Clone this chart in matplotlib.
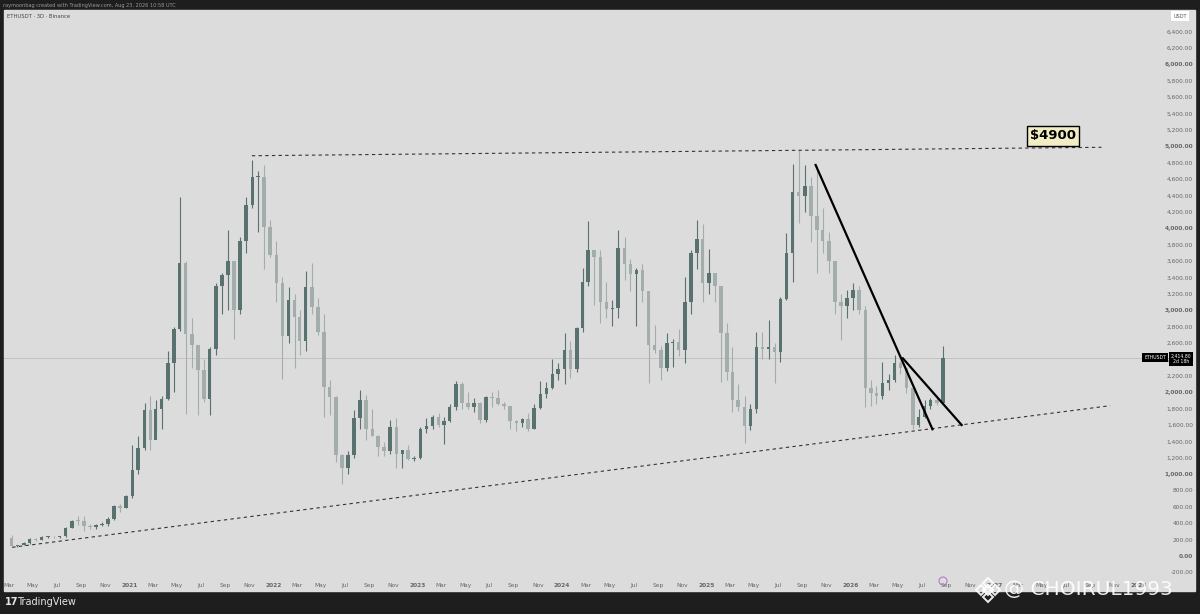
import datetime as dt
import matplotlib
matplotlib.use("Agg")
import matplotlib.pyplot as plt
import matplotlib.dates as mdates
from matplotlib.patches import Rectangle, Polygon, Ellipse

# ETHUSDT candles, one per half month (1st / 16th)
first_open = 220
closes = [125, 133, 158, 206, 200, 231, 231, 226, 240, 345, 432, 430, 365, 360, 375, 385,
          450, 615, 580, 735,
          1050, 1320, 1780, 1420, 1790, 1920, 2350, 2770, 3580, 2710, 2570, 2275, 1920, 2530,
          3300, 3430, 3600, 3000, 3850, 4290, 4630, 4630, 4010, 3680,
          3330, 2690, 3130, 2920, 2620, 3280, 3040, 2730, 2060, 1940, 1230, 1070, 1230, 1680,
          1900, 1550, 1470, 1330, 1280, 1570, 1250, 1300, 1190, 1196,
          1550, 1585, 1700, 1605, 1650, 1820, 2100, 1870, 1820, 1870, 1665, 1935, 1930, 1855,
          1825, 1645, 1625, 1670, 1555, 1810, 1980, 2050, 2220, 2280,
          2510, 2280, 2780, 3340, 3740, 3650, 3100, 3015, 3030, 3760, 3560, 3440, 3490, 3230,
          2570, 2510, 2300, 2600, 2610, 2515, 3100, 3700, 3870, 3330,
          3450, 3300, 2720, 2240, 1910, 1820, 1590, 1795, 2550, 2530, 2550, 2490, 3140, 3700,
          4440, 4390, 4520, 4150, 3980, 3850, 3600, 3100, 3050, 3150,
          3250, 3000, 2050, 1990, 1950, 2110, 2150, 2350, 2300, 2050, 1600, 1700, 1830, 1900,
          1870, 2415]
highs = [252, 140, 175, 215, 218, 240, 250, 240, 245, 350, 440, 490, 485, 395, 385, 420,
         480, 620, 640, 750,
         1350, 1470, 1870, 1950, 1900, 1950, 2500, 2800, 4380, 3600, 2900, 2550, 2400, 2550,
         3330, 3460, 3980, 3600, 3900, 4380, 4830, 4700, 4770, 4100,
         3850, 3400, 3280, 3200, 3000, 3480, 3580, 3150, 2950, 2150, 1950, 1250, 1280, 1780,
         2030, 1960, 1790, 1480, 1390, 1660, 1680, 1300, 1350, 1220,
         1570, 1680, 1720, 1740, 1700, 1850, 2140, 2130, 2000, 1930, 1880, 1950, 2000, 2030,
         1880, 1830, 1660, 1680, 1750, 1860, 2140, 2130, 2400, 2350,
         2720, 2620, 2800, 3520, 4090, 3740, 3730, 3350, 3120, 3980, 3890, 3620, 3520, 3560,
         3240, 2820, 2560, 2720, 2650, 2770, 3400, 3740, 4100, 4050,
         3750, 3450, 3300, 2850, 2550, 2100, 1950, 1850, 2740, 2740, 2880, 2600, 3160, 3940,
         4790, 4960, 4770, 4630, 4760, 4250, 3950, 3600, 3200, 3250,
         3330, 3300, 3050, 2150, 2080, 2370, 2220, 2450, 2380, 2310, 2060, 1800, 1900, 1930,
         1940, 2560]
lows = [110, 112, 130, 150, 180, 190, 225, 215, 225, 235, 340, 375, 310, 330, 335, 365,
        370, 445, 540, 580,
        710, 1000, 1300, 1300, 1450, 1550, 1900, 2000, 2750, 1730, 2300, 1720, 1880, 1720,
        2450, 2950, 3000, 2650, 2950, 3700, 4250, 3950, 3500, 3650,
        3100, 2160, 2600, 2300, 2450, 2500, 2950, 2700, 1700, 1720, 1150, 880, 1000, 1200,
        1550, 1420, 1460, 1220, 1220, 1250, 1070, 1075, 1170, 1160,
        1190, 1500, 1550, 1580, 1370, 1640, 1780, 1790, 1790, 1760, 1620, 1640, 1820, 1840,
        1800, 1550, 1530, 1580, 1520, 1550, 1790, 1930, 2040, 2150,
        2100, 2170, 2240, 2740, 3300, 3060, 2850, 2900, 2810, 2900, 3370, 3240, 2810, 3100,
        2110, 2480, 2150, 2260, 2310, 2440, 2360, 2950, 3500, 3100,
        3200, 3100, 2120, 2150, 1760, 1770, 1385, 1540, 1750, 2400, 2400, 2110, 2370, 3120,
        3350, 4060, 4200, 3830, 3450, 3700, 3450, 2950, 2640, 2900,
        3000, 2950, 1820, 1830, 1860, 1920, 2030, 2120, 2220, 1990, 1555, 1570, 1680, 1800,
        1840, 1850]

top_line_dates = ["2021-11-07", "2027-09-29"]
top_line_prices = [4886, 4989]
support_dates = ["2020-03-10", "2027-10-21"]
support_prices = [106, 1835]
fall_dates = ["2025-10-05", "2026-07-28"]
fall_prices = [4773, 1547]
fall2_dates = ["2026-05-14", "2026-10-10"]
fall2_prices = [2413, 1599]
target_date, target_price, target_label = "2027-05-29", 5127, "$4900"
last_price = 2414.80

W, H = 1200, 614
def px(x, y):
    return x / W, 1 - y / H

def d(s):
    return mdates.date2num(dt.datetime.strptime(s, "%Y-%m-%d"))

# candle dates: 1st and 16th of every month from Mar 2020
dates = []
yr, mo = 2020, 3
while len(dates) < len(closes):
    dates.append(dt.datetime(yr, mo, 1))
    dates.append(dt.datetime(yr, mo, 16))
    mo += 1
    if mo > 12:
        yr, mo = yr + 1, 1
xs = [mdates.date2num(t) + 7 for t in dates]
opens = [first_open] + closes[:-1]

fig = plt.figure(figsize=(W / 100, H / 100), dpi=100, facecolor="#1e1e1e")
fig.patches.append(Rectangle(px(4, 591), 1191 / W, 581 / H, transform=fig.transFigure,
                             color="#dcdcdc", zorder=-10))
ax = fig.add_axes([4 / W, 36 / H, 1159 / W, 568 / H])
ax.set_facecolor("#dcdcdc")
for s in ax.spines.values():
    s.set_visible(False)

up_col, dn_col = "#58736f", "#a3aeac"
for x, o, h, l, c in zip(xs, opens, highs, lows, closes):
    col = up_col if c >= o else dn_col
    ax.vlines(x, l, h, color=col, lw=0.8, zorder=3)
    ax.bar(x, max(abs(c - o), 8), bottom=min(o, c), width=9, color=col, zorder=3, lw=0)

ax.axhline(last_price, color="#bdbdbd", lw=0.6, zorder=1)
ax.plot([d(s) for s in top_line_dates], top_line_prices, ls=(0, (3, 3)), color="#333333", lw=0.8, zorder=4)
ax.plot([d(s) for s in support_dates], support_prices, ls=(0, (3, 3)), color="#333333", lw=0.8, zorder=4)
ax.plot([d(s) for s in fall_dates], fall_prices, color="black", lw=1.6, zorder=5)
ax.plot([d(s) for s in fall2_dates], fall2_prices, color="black", lw=1.6, zorder=5)
ax.text(d(target_date), target_price, target_label, fontsize=9.5, fontweight="bold", ha="center",
        va="center", zorder=6,
        bbox=dict(boxstyle="square,pad=0.25", facecolor="#f2ecc4", edgecolor="black", lw=1.0))

ax.set_xlim(d("2020-02-18"), d("2028-03-03"))
ax.set_ylim(-268.6, 6665)

# x axis: month ticks with years on January
ticks, labels = [], []
yr, mo = 2020, 3
while (yr, mo) <= (2028, 1):
    t = dt.datetime(yr, mo, 1)
    ticks.append(mdates.date2num(t))
    labels.append(str(yr) if mo == 1 else t.strftime("%b"))
    mo += 2
    if mo > 12:
        yr, mo = yr + 1, mo - 12
ax.set_xticks(ticks)
ax.set_xticklabels(labels)
for lab in ax.get_xticklabels():
    if lab.get_text().isdigit():
        lab.set_fontweight("bold")

yticks = list(range(-200, 6401, 200))
ax.yaxis.tick_right()
ax.set_yticks(yticks)
ax.set_yticklabels([f"{v:,.2f}" for v in yticks])
for v, lab in zip(yticks, ax.get_yticklabels()):
    lab.set_ha("right")
    if v % 1000 == 0:
        lab.set_fontweight("bold")
ax.tick_params(axis="x", length=0, pad=3.5, labelsize=4.2, colors="#666666")
ax.tick_params(axis="y", length=0, pad=21.6, labelsize=4.2, colors="#666666")

# header, legend and labels
fig.text(*px(3, 5), "raymoonbag created with TradingView.com, Aug 23, 2026 10:58 UTC",
         fontsize=3.6, color="#9a9a9a", va="center")
fig.text(*px(7, 16), "ETHUSDT \u00b7 3D \u00b7 Binance", fontsize=3.8, color="#444444", va="center")
fig.text(*px(1180, 16), "USDT", fontsize=3.6, color="#555555", ha="center", va="center",
         bbox=dict(boxstyle="square,pad=0.5", facecolor="white", edgecolor="none"))
fig.text(*px(1155, 357.5), "ETHUSDT", fontsize=3.3, color="white", ha="center", va="center",
         bbox=dict(boxstyle="square,pad=0.4", facecolor="black", edgecolor="none"))
fig.text(*px(1181, 359), "2,414.80\n2d 18h", fontsize=3.3, color="white", ha="center", va="center",
         linespacing=1.1, bbox=dict(boxstyle="square,pad=0.35", facecolor="black", edgecolor="none"))

# event marker on the time axis
fig.patches.append(Ellipse(px(943, 581), 8 / W, 8 / H, transform=fig.transFigure, facecolor="none",
                           edgecolor="#b06fc9", lw=0.7, zorder=5))

# TradingView footer logo
fig.text(*px(5, 602), "17", fontsize=7, fontweight="bold", color="#e6e6e6", va="center")
fig.text(*px(17, 602), "TradingView", fontsize=7, color="#e6e6e6", va="center")

# watermark
cx, cy, r = 988, 590, 5
for ox, oy in [(0, 0), (-7, 0), (7, 0), (0, -7), (0, 7)]:
    pts = [px(cx + ox, cy + oy - r), px(cx + ox + r, cy + oy), px(cx + ox, cy + oy + r),
           px(cx + ox - r, cy + oy)]
    fig.patches.append(Polygon(pts, closed=True, transform=fig.transFigure, facecolor="none",
                               edgecolor="white", lw=1.4, alpha=0.9, zorder=10))
fig.text(*px(1004, 589), "@ CHOIRUL1993", fontsize=14.5, color="white", alpha=0.9,
         va="center", zorder=10)

fig.savefig("out.png", dpi=100, facecolor=fig.get_facecolor())
